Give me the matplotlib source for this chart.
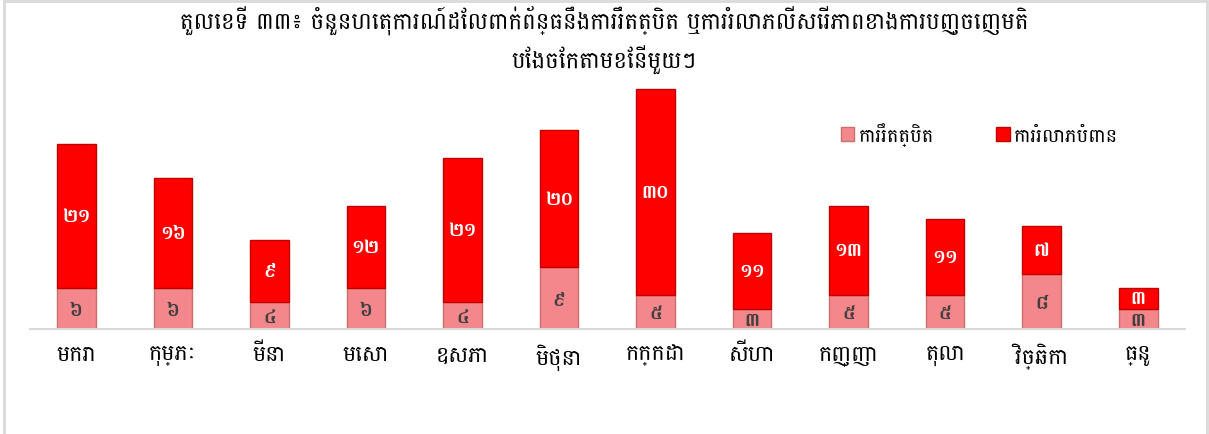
import matplotlib
matplotlib.use('Agg')
import matplotlib.pyplot as plt
from matplotlib import font_manager
from matplotlib.patches import Rectangle, Patch
import numpy as np

MONTHS = ['មករា', 'កុម្ភៈ', 'មីនា', 'មេសា', 'ឧសភា', 'មិថុនា',
          'កក្កដា', 'សីហា', 'កញ្ញា', 'តុលា', 'វិច្ឆិកា', 'ធ្នូ']
RESTRICTION = [6, 6, 4, 6, 4, 9, 5, 3, 5, 5, 8, 3]
VIOLATION = [21, 16, 9, 12, 21, 20, 30, 11, 13, 11, 7, 3]
SERIES_NAMES = ['ការរឹតត្បិត', 'ការរំលោភបំពាន']
TITLE = ('តួលេខទី ៣៣៖ ចំនួនហេតុការណ៍ដែលពាក់ព័ន្ធនឹងការរឹតត្បិត ឬការរំលោភលើសេរីភាពខាងការបញ្ចេញមតិ\n'
         'បែងចែកតាមខែនីមួយៗ')

KHMER_DIGITS = '០១២៣៤៥៦៧៨៩'
PREFERRED_FONTS = ['Battambang-Regular', 'Khmer.ttf', 'Hanuman', 'Content-Regular']


def khmer_number(n: int) -> str:
    return ''.join(KHMER_DIGITS[int(d)] for d in str(n))


def pick_khmer_family() -> list[str]:
    paths = font_manager.findSystemFonts()
    for wanted in PREFERRED_FONTS:
        for path in paths:
            if wanted in path:
                font_manager.fontManager.addfont(path)
                return [font_manager.FontProperties(fname=path).get_name(), 'DejaVu Sans']
    return ['DejaVu Sans']


def main() -> None:
    plt.rcParams['font.family'] = pick_khmer_family()

    fig = plt.figure(figsize=(12.09, 4.35), dpi=100)
    fig.patches.append(Rectangle((0.003, -0.01), 0.995, 1.005, transform=fig.transFigure,
                                 fill=False, edgecolor='#d9d9d9', linewidth=2))
    ax = fig.add_axes([0.0248, 0.241, 0.955, 0.568])

    x = np.arange(len(MONTHS))
    width = 0.4
    bottom_bars = ax.bar(x, RESTRICTION, width, color='#f4878b', edgecolor='#c87070', linewidth=1)
    top_bars = ax.bar(x, VIOLATION, width, bottom=RESTRICTION, color='#ff0000', edgecolor='#c00000', linewidth=1)

    for rect, v in zip(bottom_bars, RESTRICTION):
        ax.text(rect.get_x() + rect.get_width() / 2, rect.get_y() + rect.get_height() / 2 - 0.2,
                khmer_number(v), ha='center', va='center', fontsize=14, color='#404040', fontweight='bold')
    for rect, v in zip(top_bars, VIOLATION):
        ax.text(rect.get_x() + rect.get_width() / 2, rect.get_y() + rect.get_height() / 2,
                khmer_number(v), ha='center', va='center', fontsize=14, color='white', fontweight='bold')

    ax.set_xlim(-0.48, len(MONTHS) - 0.52)
    ax.set_ylim(0, 36)
    ax.set_xticks(x)
    ax.set_xticklabels(MONTHS, fontsize=16)
    ax.tick_params(axis='x', length=0, pad=10)
    ax.set_yticks([])
    for side in ['top', 'right', 'left']:
        ax.spines[side].set_visible(False)
    ax.spines['bottom'].set_color('#d9d9d9')
    ax.spines['bottom'].set_linewidth(1.5)

    fig.text(0.5, 0.985, TITLE, ha='center', va='top', fontsize=16.5, linespacing=1.45)

    handles = [Patch(facecolor='#f4878b', edgecolor='#c87070'),
               Patch(facecolor='#ff0000', edgecolor='#c00000')]
    fig.legend(handles, SERIES_NAMES, loc='center', bbox_to_anchor=(0.81, 0.69), ncol=2,
               frameon=False, fontsize=14, handlelength=0.7, handleheight=0.7,
               handletextpad=0.2, columnspacing=3.2)

    fig.savefig('out.png', dpi=100)


if __name__ == '__main__':
    main()
